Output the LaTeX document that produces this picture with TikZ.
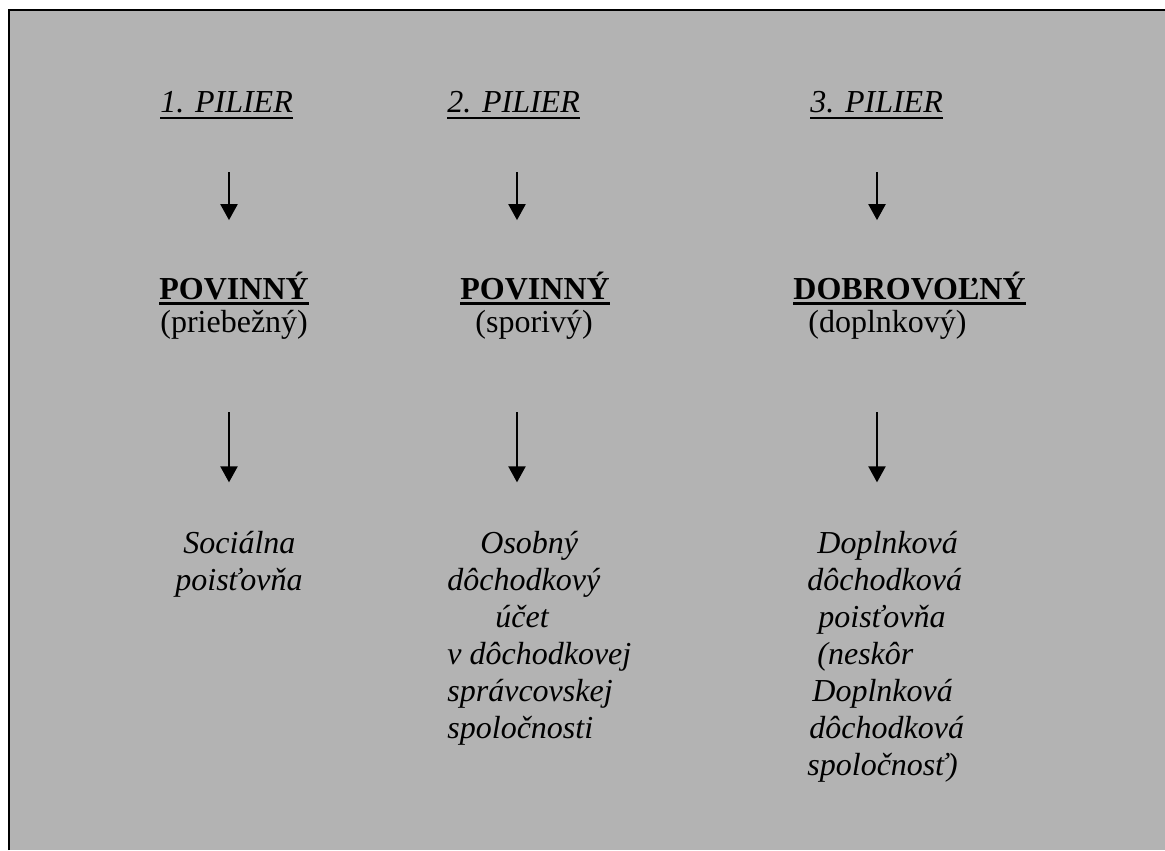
\documentclass[tikz,border=0pt]{standalone}
\usepackage{fontspec}
\setmainfont{Liberation Serif}
\usepackage{xcolor}
\definecolor{panel}{RGB}{179,179,179}
\usetikzlibrary{arrows.meta,calc}
\newcommand{\ulbar}[3]{\leavevmode\setbox0=\hbox{#3}\rlap{\rule[-#1]{\wd0}{#2}}\box0}

\begin{document}
\begin{tikzpicture}[
  x=0.5pt, y=-0.5pt,
  font=\fontsize{16}{18.5}\selectfont,
  txt/.style={inner sep=0pt, anchor=base west},
  pillar/.style={txt, font=\fontsize{16}{18.5}\selectfont\itshape},
  kind/.style={txt, font=\fontsize{16}{18.5}\selectfont\bfseries},
  body/.style={txt, align=left, font=\fontsize{16}{18.5}\selectfont\itshape},
  arr/.style={-{Triangle[width=8.5pt,length=8pt]}, line width=1.1pt, black}]
\useasboundingbox (0,0) rectangle (1165,850);
\fill[panel] (9,10) rectangle (1165,850);
\draw[line width=1pt] (9,850) -- (9,10) -- (1165,10);
\coordinate (ax1) at (229,0);
\coordinate (ax2) at (517,0);
\coordinate (ax3) at (877,0);
\node[pillar] (pil1) at (160,113) {\ulbar{3pt}{1pt}{1. PILIER}};
\node[pillar] (pil2) at (447,113) {\ulbar{3pt}{1pt}{2. PILIER}};
\node[pillar] (pil3) at (810,113) {\ulbar{3pt}{1pt}{3. PILIER}};
\node[kind] (pov1) at (159,299) {\ulbar{3pt}{1.5pt}{POVINNÝ}};
\node[kind] (pov2) at (460,299) {\ulbar{3pt}{1.5pt}{POVINNÝ}};
\node[kind] (dob3) at (793,299) {\ulbar{3pt}{1.5pt}{DOBROVOĽNÝ}};
\node[txt] (typ1) at (160,332) {(priebežný)};
\node[txt] (typ2) at (475,332) {(sporivý)};
\node[txt] (typ3) at (808,332) {(doplnkový)};
% base of a multi-line node is its last line
\node[body] (ins1) at (175,590) {\hspace*{4pt}Sociálna\\poisťovňa};
\node[body] (ins2) at (447,738) {\hspace*{16.5pt}Osobný\\dôchodkový\\\hspace*{24pt}účet\\v dôchodkovej\\správcovskej\\spoločnosti};
\node[body] (ins3) at (807,775) {\hspace*{5pt}Doplnková\\dôchodková\\\hspace*{5.5pt}poisťovňa\\\hspace*{5pt}(neskôr\\\hspace*{2.5pt}Doplnková\\\hspace*{1pt}dôchodková\\spoločnosť)};
\draw[arr, shorten <=26.5pt, shorten >=25.5pt] (ax1 |- pil1.south) -- (ax1 |- pov1.north);
\draw[arr, shorten <=26.5pt, shorten >=25.5pt] (ax2 |- pil2.south) -- (ax2 |- pov2.north);
\draw[arr, shorten <=26.5pt, shorten >=25.5pt] (ax3 |- pil3.south) -- (ax3 |- dob3.north);
\draw[arr, shorten <=36.5pt, shorten >=24pt] (ax1 |- typ1.south) -- (ax1 |- ins1.north);
\draw[arr, shorten <=36.5pt, shorten >=24pt] (ax2 |- typ2.south) -- (ax2 |- ins2.north);
\draw[arr, shorten <=36.5pt, shorten >=24pt] (ax3 |- typ3.south) -- (ax3 |- ins3.north);
\end{tikzpicture}
\end{document}
